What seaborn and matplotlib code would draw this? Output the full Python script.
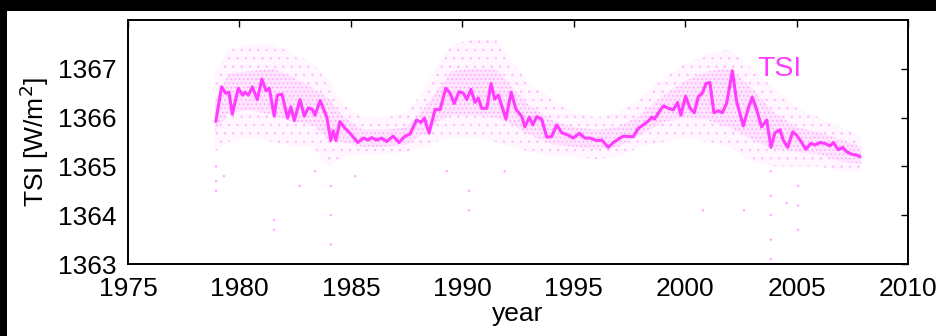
import matplotlib
matplotlib.use("Agg")
import matplotlib.pyplot as plt
import seaborn as sns
import pandas as pd
from matplotlib.patches import Rectangle

# Smoothed total solar irradiance record
line_years = [1978.94, 1979.20, 1979.38, 1979.53, 1979.68, 1979.95, 1980.14, 1980.25, 1980.40, 1980.58,
              1980.80, 1981.01, 1981.19, 1981.34, 1981.56, 1981.70, 1981.91, 1982.16, 1982.31, 1982.46,
              1982.72, 1982.91, 1983.09, 1983.27, 1983.39, 1983.62, 1983.92, 1984.10, 1984.21, 1984.33,
              1984.51, 1984.74, 1984.96, 1985.31, 1985.56, 1985.78, 1985.93, 1986.16, 1986.38, 1986.61,
              1986.90, 1987.16, 1987.43, 1987.65, 1987.95, 1988.15, 1988.30, 1988.51, 1988.78, 1989.00,
              1989.26, 1989.45, 1989.64, 1989.85, 1990.05, 1990.20, 1990.39, 1990.57, 1990.72, 1990.87,
              1991.10, 1991.29, 1991.45, 1991.62, 1991.96, 1992.19, 1992.41, 1992.67, 1992.81, 1993.01,
              1993.16, 1993.34, 1993.56, 1993.79, 1994.01, 1994.24, 1994.46, 1994.76, 1994.98, 1995.25,
              1995.51, 1995.73, 1996.03, 1996.26, 1996.55, 1996.78, 1997.00, 1997.23, 1997.49, 1997.67,
              1997.90, 1998.12, 1998.35, 1998.50, 1998.62, 1998.80, 1999.02, 1999.25, 1999.47, 1999.66,
              1999.81, 2000.02, 2000.22, 2000.41, 2000.59, 2000.77, 2000.94, 2001.11, 2001.29, 2001.49,
              2001.67, 2001.86, 2002.12, 2002.31, 2002.61, 2002.83, 2003.01, 2003.21, 2003.43, 2003.66,
              2003.85, 2004.03, 2004.26, 2004.40, 2004.60, 2004.83, 2005.00, 2005.23, 2005.42, 2005.63,
              2005.83, 2006.05, 2006.27, 2006.50, 2006.65, 2006.87, 2007.07, 2007.25, 2007.47, 2007.70,
              2007.85]
line_tsi = [1365.92, 1366.63, 1366.50, 1366.52, 1366.07, 1366.60, 1366.46, 1366.52, 1366.46, 1366.63,
            1366.37, 1366.79, 1366.55, 1366.60, 1366.03, 1366.46, 1366.48, 1365.99, 1366.22, 1365.94,
            1366.37, 1366.03, 1366.20, 1366.17, 1366.05, 1366.35, 1366.01, 1365.53, 1365.73, 1365.53,
            1365.92, 1365.78, 1365.68, 1365.49, 1365.58, 1365.54, 1365.59, 1365.54, 1365.58, 1365.51,
            1365.62, 1365.49, 1365.62, 1365.66, 1365.95, 1365.90, 1365.99, 1365.68, 1366.17, 1366.16,
            1366.60, 1366.50, 1366.29, 1366.53, 1366.50, 1366.37, 1366.58, 1366.31, 1366.40, 1366.19,
            1366.19, 1366.70, 1366.38, 1366.46, 1365.97, 1366.52, 1366.17, 1366.02, 1365.81, 1366.01,
            1365.85, 1366.02, 1365.97, 1365.60, 1365.61, 1365.85, 1365.69, 1365.64, 1365.58, 1365.68,
            1365.58, 1365.58, 1365.53, 1365.54, 1365.39, 1365.49, 1365.56, 1365.62, 1365.61, 1365.61,
            1365.78, 1365.85, 1365.93, 1366.01, 1365.97, 1366.09, 1366.24, 1366.19, 1366.16, 1366.31,
            1366.05, 1366.44, 1366.19, 1366.10, 1366.43, 1366.50, 1366.70, 1366.72, 1366.10, 1366.14,
            1366.10, 1366.29, 1366.96, 1366.33, 1365.83, 1366.19, 1366.42, 1366.16, 1365.81, 1365.95,
            1365.39, 1365.69, 1365.75, 1365.54, 1365.39, 1365.71, 1365.64, 1365.49, 1365.35, 1365.47,
            1365.44, 1365.49, 1365.47, 1365.42, 1365.49, 1365.34, 1365.39, 1365.30, 1365.25, 1365.23,
            1365.20]

# Spread of the daily values: outer extent and dense core
spread_years = [1978.9, 1979.5, 1980.5, 1981.5, 1982.5, 1983.3, 1984.0, 1984.6, 1985.5, 1986.5,
                1987.5, 1988.2, 1988.8, 1989.5, 1990.5, 1991.5, 1992.3, 1993.0, 1994.0, 1995.0,
                1996.0, 1997.0, 1998.0, 1999.0, 2000.0, 2001.0, 2002.0, 2003.0, 2004.0, 2005.0,
                2006.0, 2007.0, 2007.9]
outer_upper = [1366.9, 1367.4, 1367.5, 1367.5, 1367.3, 1367.1, 1366.8, 1366.3, 1366.0, 1366.0,
               1366.1, 1366.5, 1367.0, 1367.5, 1367.6, 1367.6, 1367.1, 1366.7, 1366.4, 1366.1,
               1366.0, 1366.1, 1366.4, 1366.8, 1367.1, 1367.3, 1367.4, 1367.0, 1366.6, 1366.2,
               1366.0, 1365.8, 1365.6]
outer_lower = [1365.3, 1365.5, 1365.6, 1365.5, 1365.4, 1365.4, 1365.0, 1365.2, 1365.25, 1365.25,
               1365.3, 1365.4, 1365.5, 1365.6, 1365.6, 1365.5, 1365.4, 1365.3, 1365.2, 1365.2,
               1365.15, 1365.2, 1365.4, 1365.5, 1365.6, 1365.5, 1365.4, 1365.1, 1365.0, 1365.0,
               1365.0, 1364.9, 1364.9]
core_upper = [1366.3, 1366.9, 1366.95, 1367.0, 1366.8, 1366.6, 1366.4, 1366.05, 1365.75, 1365.75,
              1365.8, 1366.15, 1366.5, 1366.95, 1367.0, 1367.0, 1366.6, 1366.25, 1365.95, 1365.8,
              1365.75, 1365.8, 1366.05, 1366.45, 1366.75, 1366.95, 1367.0, 1366.6, 1366.1, 1365.8,
              1365.7, 1365.55, 1365.4]
core_lower = [1365.7, 1366.1, 1366.15, 1366.05, 1365.9, 1365.85, 1365.55, 1365.5, 1365.4, 1365.4,
              1365.45, 1365.65, 1365.9, 1366.05, 1366.05, 1366.0, 1365.85, 1365.65, 1365.45, 1365.4,
              1365.35, 1365.4, 1365.65, 1365.9, 1366.0, 1365.95, 1365.8, 1365.55, 1365.35, 1365.3,
              1365.25, 1365.1, 1365.05]

# Isolated low daily readings
low_years = [1978.95, 1978.95, 1978.95, 1979.30, 1981.55, 1981.55, 1982.70, 1983.40, 1984.10, 1984.10,
             1984.10, 1985.20, 1989.30, 1990.30, 1990.30, 1991.90, 2000.80, 2002.64, 2003.84, 2003.84,
             2003.84, 2003.84, 2003.84, 2004.55, 2005.07, 2005.07, 2005.07]
low_tsi = [1364.5, 1364.7, 1365.0, 1364.8, 1363.9, 1363.7, 1364.6, 1364.9, 1363.4, 1364.0,
           1364.6, 1364.8, 1364.9, 1364.1, 1364.5, 1364.9, 1364.1, 1364.1, 1363.1, 1363.5,
           1364.0, 1364.4, 1364.9, 1364.25, 1363.7, 1364.2, 1364.6]

x_ticks = [1975, 1980, 1985, 1990, 1995, 2000, 2005, 2010]
y_ticks = [1363, 1364, 1365, 1366, 1367]

line_df = pd.DataFrame({"year": line_years, "tsi": line_tsi})
low_df = pd.DataFrame({"year": low_years, "tsi": low_tsi})

sns.set_style("white")
plt.rcParams["font.family"] = ["Liberation Sans", "DejaVu Sans"]
plt.rcParams["text.color"] = "black"
plt.rcParams["axes.labelcolor"] = "black"
plt.rcParams["xtick.color"] = "black"
plt.rcParams["ytick.color"] = "black"
plt.rcParams["hatch.linewidth"] = 0.5

magenta = "#ff3cff"

fig = plt.figure(figsize=(9.36, 3.36), dpi=100, facecolor="black")
fig.add_artist(Rectangle((7 / 936, 0), 1, 325 / 336, transform=fig.transFigure,
                         facecolor="white", edgecolor="none", zorder=-10))
ax = fig.add_axes([128 / 936, 72 / 336, 780 / 936, 244 / 336])
ax.set_facecolor("white")

# sparse outer haze of daily values
ax.fill_between(spread_years, outer_lower, outer_upper, facecolor="#fff6ff",
                edgecolor="#ffb8ff", hatch="..", linewidth=0, zorder=1)
# denser core of daily values
ax.fill_between(spread_years, core_lower, core_upper, facecolor="#ffe4ff",
                edgecolor="#ff9cff", hatch="....", linewidth=0, zorder=1.5)
sns.scatterplot(data=low_df, x="year", y="tsi", ax=ax, s=3, color="#ffa6ff",
                edgecolor="none", zorder=2, legend=False)
sns.lineplot(data=line_df, x="year", y="tsi", ax=ax, color=magenta, linewidth=2.2,
             zorder=3, legend=False)

ax.text(2003.25, 1367.0, "TSI", color=magenta, fontsize=20.5, ha="left", va="center")

ax.set_xlim(1975, 2010)
ax.set_ylim(1363, 1368)
ax.set_xticks(x_ticks)
ax.set_yticks(y_ticks)
ax.tick_params(direction="in", length=5, width=1, top=True, right=True,
               labelsize=19, pad=8, colors="black")
ax.tick_params(axis="x", pad=9)
for spine in ax.spines.values():
    spine.set_visible(True)
    spine.set_color("black")
    spine.set_linewidth(1.4)

ax.set_xlabel("year", fontsize=19, labelpad=1)
ax.set_ylabel("TSI [W/m$^2$]", fontsize=19, labelpad=5)

fig.savefig("out.png", dpi=100, facecolor=fig.get_facecolor())
